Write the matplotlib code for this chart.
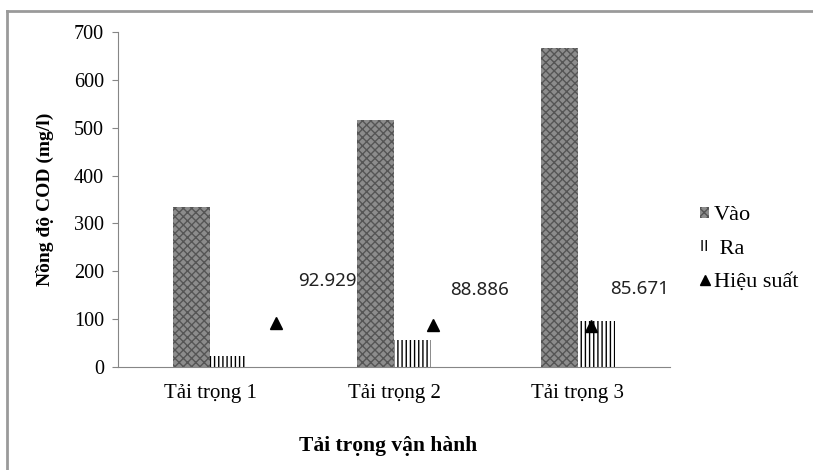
import matplotlib.pyplot as plt
import matplotlib.lines as mlines
import matplotlib.patches as mpatches

# data
loads = ["Tải trọng 1", "Tải trọng 2", "Tải trọng 3"]
cod_in = [335, 516, 667]
cod_out = [24, 57, 96]
efficiency = [92.929, 88.886, 85.671]

plt.rcParams['hatch.linewidth'] = 1.0
serif = 'Liberation Serif'

fig = plt.figure(figsize=(8.13, 4.70), dpi=100)
ax = fig.add_axes([0.1451, 0.219, 0.679, 0.713])

x = list(range(len(loads)))
w = 0.2
ax.bar([i - w / 2 for i in x], cod_in, w, color='#8c8c8c', edgecolor='#555555',
       hatch='xxxx', linewidth=0)
ax.bar([i + w / 2 for i in x], cod_out, w, color='white', edgecolor='black',
       hatch='||||', linewidth=0)

ax.set_xlim(-0.5, 2.5)
ax.set_ylim(0, 700)
ax.set_yticks(range(0, 701, 100))
ax.set_xticks(x)
ax.set_xticklabels(loads, fontfamily=serif, fontsize=15)
ax.tick_params(axis='x', length=0, pad=12)
for s in ['top', 'right']:
    ax.spines[s].set_visible(False)
for s in ['left', 'bottom']:
    ax.spines[s].set_color('#868686')
ax.tick_params(axis='y', colors='#868686', length=4, labelcolor='black',
               labelsize=14.5, pad=6)
for t in ax.get_yticklabels():
    t.set_fontfamily(serif)
ax.set_ylabel("Nồng độ COD (mg/l)", fontfamily=serif, fontweight='bold',
              fontsize=14)
ax.yaxis.set_label_coords(-0.115, 0.5)

# efficiency points sit on their own x scale
ax2 = ax.twiny()
ax2.set_xlim(0, 3.5)
ax2.plot([1, 2, 3], efficiency, '^', color='black', ms=8)
offsets = [(37, 30), (33, 25), (35, 27)]
for i, v in enumerate(efficiency):
    ax2.annotate(f"{v:.3f}", (i + 1, v), xytext=offsets[i],
                 textcoords='offset points', ha='center', va='center',
                 fontsize=13.5, fontfamily='Noto Sans', color='#222222')
ax2.set_xticks([])
for s in ax2.spines.values():
    s.set_visible(False)

fig.text(0.477, 0.05, "Tải trọng vận hành", ha='center', va='center',
         fontfamily=serif, fontweight='bold', fontsize=15.5)

handles = [
    mpatches.Patch(facecolor='#8c8c8c', edgecolor='#555555', hatch='xxxx', linewidth=0),
    mpatches.Patch(facecolor='white', edgecolor='black', hatch='||||', linewidth=0),
    mlines.Line2D([], [], marker='^', color='black', ls='none', ms=7),
]
fig.legend(handles, ["Vào", " Ra", "Hiệu suất"], loc='upper left',
           bbox_to_anchor=(0.837, 0.604), frameon=False,
           prop={'family': serif, 'size': 16}, handlelength=0.4,
           handleheight=0.4, handletextpad=0.2, labelspacing=0.65)

# outer frame (left and top edges visible)
fig.add_artist(mlines.Line2D([7 / 813, 7 / 813], [0, 1 - 11 / 470],
                             color='#9a9a9a', lw=2))
fig.add_artist(mlines.Line2D([7 / 813, 1], [1 - 11 / 470, 1 - 11 / 470],
                             color='#9a9a9a', lw=2))

fig.savefig("out.png", dpi=100)
